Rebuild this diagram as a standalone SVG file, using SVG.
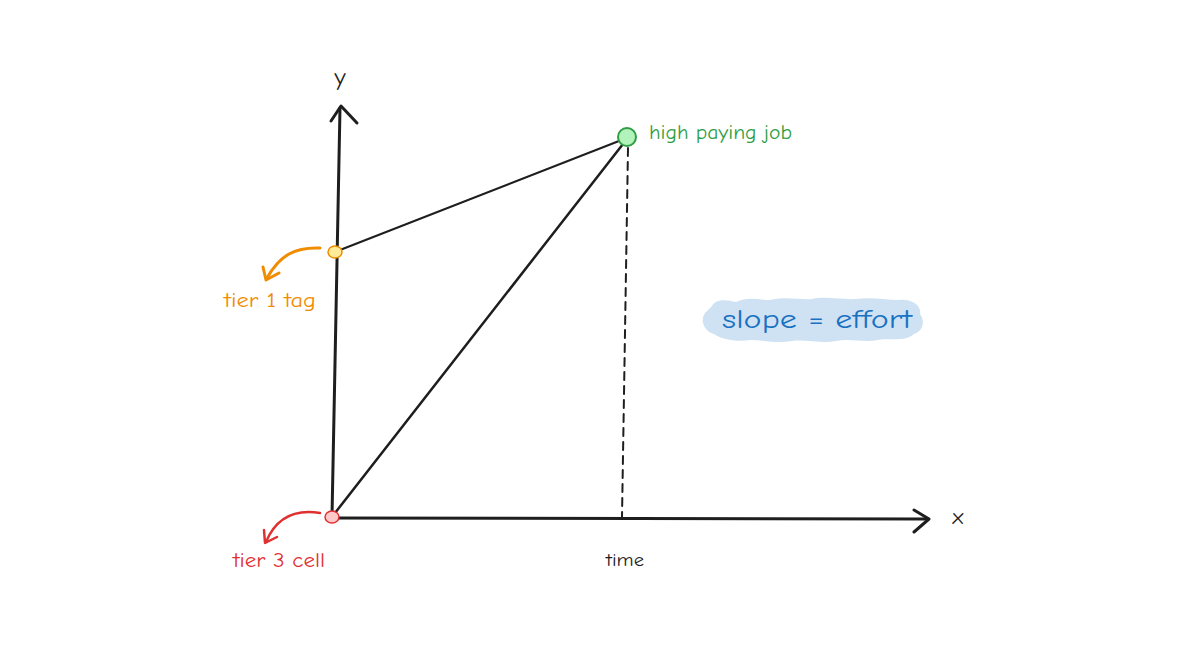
<svg xmlns="http://www.w3.org/2000/svg" width="1194" height="672" viewBox="0 0 1194 672">
<style>
.t{font-family:"Comic Neue","Lato","Liberation Sans",sans-serif;}
.ax{stroke:#1e1e1e;stroke-width:3;fill:none;stroke-linecap:round;stroke-linejoin:round;}
.ln{stroke:#1e1e1e;fill:none;stroke-linecap:round;}
</style>
<rect width="1194" height="672" fill="#ffffff"/>
<g id="connectors">
  <path class="ax" d="M332 517 L340 108"/>
  <path class="ax" d="M331 121 L341 106 L357 123" stroke-width="4.5"/>
  <path class="ax" d="M332 518 L928 519"/>
  <path class="ax" d="M914 510 L929 519 L914 532" stroke-width="4.5"/>
  <path class="ln" d="M340 250 L619 141" stroke-width="2"/>
  <path class="ln" d="M335 513 L623 144" stroke-width="2.5"/>
  <path class="ln" d="M628 148 L622 517" stroke-width="2" stroke-dasharray="8 6"/>
  <path d="M320 248 C295 247 280 255 267 278" stroke="#f08c00" stroke-width="3" fill="none" stroke-linecap="round"/>
  <path d="M263 267 L266 280 L279 273" stroke="#f08c00" stroke-width="3" fill="none" stroke-linecap="round" stroke-linejoin="round"/>
  <path d="M320 513 C295 509 276 518 266 542" stroke="#e03131" stroke-width="2.5" fill="none" stroke-linecap="round"/>
  <path d="M264 530 L265 543 L277 537" stroke="#e03131" stroke-width="2.5" fill="none" stroke-linecap="round" stroke-linejoin="round"/>
</g>
<g id="node-high">
  <circle cx="627" cy="137" r="9" fill="#b2f2bb" stroke="#2f9e44" stroke-width="2"/>
  <text class="t" x="649" y="139" font-size="20" fill="#2f9e44" textLength="143" lengthAdjust="spacingAndGlyphs">high paying job</text>
</g>
<g id="node-tier1">
  <ellipse cx="335" cy="252" rx="7" ry="6" fill="#ffec99" stroke="#f08c00" stroke-width="1.5"/>
  <text class="t" x="224" y="307" font-size="20" fill="#f08c00" textLength="92" lengthAdjust="spacingAndGlyphs">tier 1 tag</text>
</g>
<g id="node-tier3">
  <ellipse cx="332" cy="517" rx="7" ry="6" fill="#ffc9c9" stroke="#e03131" stroke-width="1.5"/>
  <text class="t" x="233" y="567" font-size="20" fill="#e03131" textLength="92" lengthAdjust="spacingAndGlyphs">tier 3 cell</text>
</g>
<g id="labels">
  <text class="t" x="340" y="85" font-size="25" fill="#1e1e1e" text-anchor="middle">y</text>
  <text class="t" x="958" y="524" font-size="23" fill="#1e1e1e" text-anchor="middle">x</text>
  <text class="t" x="606" y="566" font-size="19" fill="#1e1e1e" textLength="38" lengthAdjust="spacingAndGlyphs">time</text>
</g>
<g id="note">
  <path d="M712 306 C716 298 728 300 736 302 C748 296 760 300 770 300 C784 296 800 300 812 299 C826 296 842 300 856 299 C870 297 886 300 898 300 C912 298 922 306 920 314 C926 322 922 332 914 334 C906 342 890 338 878 340 C864 343 850 338 836 341 C822 344 806 339 792 341 C778 344 764 340 750 340 C738 342 722 340 714 334 C702 330 700 318 706 312 Z" fill="#cfe2f3"/>
  <text class="t" x="722" y="328" font-size="27" fill="#1971c2" textLength="190" lengthAdjust="spacingAndGlyphs">slope = effort</text>
</g>
</svg>
